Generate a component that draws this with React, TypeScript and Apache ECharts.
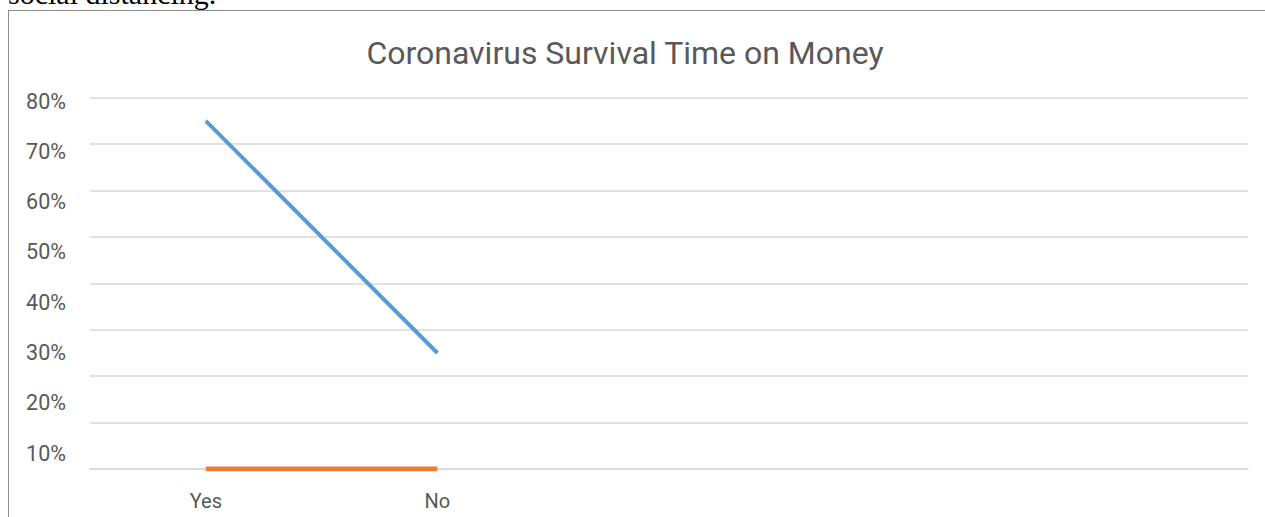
import React, { useEffect, useRef } from "react";
import * as echarts from "echarts";

const categories = ["Yes", "No", "", "", ""];
const seriesBlue = [0.75, 0.25, null, null, null];
const seriesOrange = [0, 0, null, null, null];
const yTickLabels = [0.1, 0.2, 0.3, 0.4, 0.5, 0.6, 0.7, 0.8];
const titleText = "Coronavirus Survival Time on Money";
const aboveText = "social distancing.";

const FONT = "Roboto, 'Open Sans', sans-serif";
const GREY = "#595959";

export default function App() {
  const ref = useRef<HTMLDivElement>(null);
  useEffect(() => {
    if (!ref.current) return;
    const chart = echarts.init(ref.current, null, { renderer: "svg" });
    chart.setOption({
      animation: false,
      title: {
        text: titleText,
        left: 620,
        textAlign: "center",
        top: 32,
        textStyle: { fontFamily: FONT, fontSize: 32, fontWeight: "normal", color: GREY },
      },
      grid: { left: 90, right: 17, top: 97.7, bottom: 48, containLabel: false },
      xAxis: {
        type: "category",
        data: categories,
        boundaryGap: true,
        axisLine: { lineStyle: { color: "#d9d9d9", width: 1.5 } },
        axisTick: { show: false },
        axisLabel: { color: GREY, fontFamily: FONT, fontSize: 20, margin: 22 },
        splitLine: { show: false },
      },
      yAxis: [
        {
          type: "value",
          min: 0,
          max: 0.8,
          interval: 0.1,
          axisLabel: { show: false },
          axisLine: { show: false },
          axisTick: { show: false },
          splitLine: { lineStyle: { color: "#d9d9d9", width: 1.5 } },
        },
        {
          type: "value",
          position: "left",
          min: 0.0682,
          max: 0.807,
          axisLine: { show: false },
          axisTick: { show: false },
          splitLine: { show: false },
          axisLabel: {
            customValues: yTickLabels,
            color: GREY,
            fontFamily: FONT,
            fontSize: 21.5,
            margin: 24,
            formatter: (v: number) => Math.round(v * 100) + "%",
          },
        },
      ],
      series: [
        {
          type: "line",
          data: seriesBlue,
          yAxisIndex: 0,
          symbol: "none",
          lineStyle: { color: "#5B9BD5", width: 4 },
          itemStyle: { color: "#5B9BD5" },
        },
        {
          type: "line",
          data: seriesOrange,
          yAxisIndex: 0,
          symbol: "none",
          lineStyle: { color: "#ED7D31", width: 5 },
          itemStyle: { color: "#ED7D31" },
          z: 3,
        },
      ],
    });
    return () => chart.dispose();
  }, []);

  return (
    <div style={{ position: "fixed", left: 0, top: 0, width: 1265, height: 517, overflow: "hidden", background: "#fff" }}>
      <div
        style={{
          position: "absolute",
          left: 8,
          top: -21,
          fontFamily: "'Liberation Serif', 'Times New Roman', serif",
          fontSize: 30,
          lineHeight: "30px",
          color: "#000",
          whiteSpace: "nowrap",
        }}
      >
        {aboveText}
      </div>
      <div
        style={{
          position: "absolute",
          left: 8,
          top: 10,
          width: 1400,
          height: 700,
          borderLeft: "1px solid #8a8a8a",
          borderTop: "1px solid #8a8a8a",
        }}
      />
      <div ref={ref} style={{ position: "absolute", left: 0, top: 0, width: 1265, height: 517 }} />
    </div>
  );
}
